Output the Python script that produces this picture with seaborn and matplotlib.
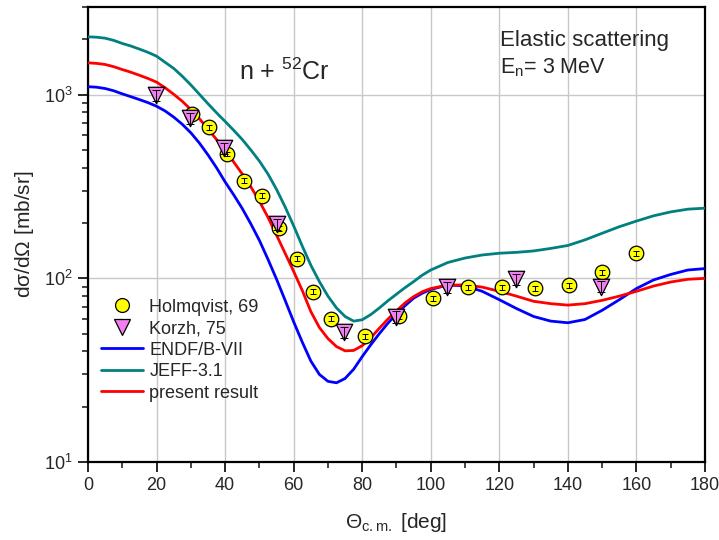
import numpy as np
import pandas as pd
import matplotlib
matplotlib.use("Agg")
import matplotlib.pyplot as plt
import seaborn as sns
from matplotlib.lines import Line2D
from matplotlib.ticker import LogLocator, MultipleLocator, NullFormatter

# ---------------- data ----------------
angles = [0, 2.5, 5, 7.5, 10, 12.5, 15, 17.5, 20, 22.5, 25, 27.5, 30, 32.5, 35, 37.5,
          40, 42.5, 45, 47.5, 50, 52.5, 55, 57.5, 60, 62.5, 65, 67.5, 70, 72.5, 75,
          77.5, 80, 82.5, 85, 87.5, 90, 92.5, 95, 97.5, 100,
          105, 110, 115, 120, 125, 130, 135, 140, 145, 150, 155, 160, 165, 170, 175, 180]
endf = [1105, 1098, 1080, 1050, 1010, 975, 940, 905, 865, 815, 755, 690, 620, 545, 470, 400,
        335, 285, 240, 198, 161, 127, 99, 76, 58, 45, 35.5, 30, 27.5, 27, 28.5,
        32, 37.5, 43.5, 50, 57, 64, 71, 78, 83, 87,
        92, 91, 85, 76.5, 68.5, 62, 58.5, 57.3, 59.7, 67, 76.5, 88, 98, 105, 111, 113]
jeff = [2065, 2055, 2030, 1975, 1900, 1840, 1770, 1700, 1620, 1500, 1390, 1260, 1130, 1005, 893, 797,
        715, 640, 570, 500, 435, 370, 305, 245, 193, 150, 118, 96, 80, 69, 62,
        58.5, 59.5, 63.5, 69, 75.5, 82, 89, 96, 104, 111,
        122, 129, 134, 137, 138.5, 141, 145.5, 151, 162, 176, 191, 205, 219, 230, 238, 241]
present = [1490, 1480, 1460, 1420, 1370, 1325, 1275, 1225, 1170, 1090, 1005, 920, 830, 740, 650, 570,
           500, 430, 370, 315, 263, 215, 172, 137, 109, 86, 66, 54, 47, 42.5, 40.3,
           40.5, 43, 47.5, 53.5, 60, 66.5, 73.5, 79.5, 84.5, 88,
           92, 92, 89.6, 85, 80, 75, 72.8, 71.5, 72.8, 75.9, 80, 85, 90.8, 95.5, 98.8, 100]

holm_x = [30.3, 35.4, 40.5, 45.5, 50.7, 55.8, 60.9, 65.7, 70.9, 80.8, 90.8, 100.7,
          110.8, 120.7, 130.5, 140.4, 150.1, 159.9]
holm_y = [780, 665, 476, 340, 282, 187, 128, 84.5, 60.3, 48.4, 62.2, 77.8, 89.6,
          89.6, 88.1, 91.6, 108, 137]
holm_err = [0.03] * len(holm_x)

korzh_x = [19.8, 29.8, 39.8, 55.0, 74.8, 89.9, 104.6, 124.8, 149.7]
korzh_y = [990, 745, 512, 197, 50.9, 61.8, 89.6, 98.8, 90.1]
korzh_err = [0.07] * len(korzh_x)

# ---------------- style ----------------
sns.set_style("white")
plt.rcParams["font.family"] = ["Liberation Sans", "DejaVu Sans"]
plt.rcParams["mathtext.fontset"] = "custom"
plt.rcParams["mathtext.rm"] = "Liberation Sans"
plt.rcParams["mathtext.it"] = "Liberation Sans:italic"
plt.rcParams["mathtext.default"] = "regular"

fig = plt.figure(figsize=(7.19, 5.40), dpi=100)
ax = fig.add_axes([0.1224, 0.1444, 0.8581, 0.8426])

curves = pd.DataFrame({
    "angle": angles * 3,
    "xs": endf + jeff + present,
    "lib": ["ENDF/B-VII"] * len(angles) + ["JEFF-3.1"] * len(angles)
           + ["present result"] * len(angles),
})
palette = {"ENDF/B-VII": "#0000FF", "JEFF-3.1": "#008080", "present result": "#FF0000"}
sns.lineplot(data=curves, x="angle", y="xs", hue="lib", palette=palette,
             estimator=None, sort=False, lw=2.0, ax=ax, legend=False, zorder=3)

# experimental data
hx = np.array(holm_x); hy = np.array(holm_y)
kx = np.array(korzh_x); ky = np.array(korzh_y)
sns.scatterplot(x=hx, y=hy, marker="o", s=110, color="#FFFF00", edgecolor="black",
                linewidth=0.9, ax=ax, zorder=4)
ax.errorbar(hx, hy, yerr=hy * np.array(holm_err), fmt="none", ecolor="black",
            elinewidth=0.7, capsize=2.5, capthick=0.7, zorder=5)
sns.scatterplot(x=kx, y=ky, marker="v", s=140, color="#F080F0", edgecolor="black",
                linewidth=0.9, ax=ax, zorder=6)
ax.errorbar(kx, ky, yerr=ky * np.array(korzh_err), fmt="none", ecolor="black",
            elinewidth=0.7, capsize=3, capthick=0.7, zorder=7)

ax.set_yscale("log")
ax.set_xlim(0, 180)
ax.set_ylim(10, 3000)

ax.xaxis.set_major_locator(MultipleLocator(20))
ax.xaxis.set_minor_locator(MultipleLocator(10))
ax.yaxis.set_major_locator(LogLocator(base=10, numticks=10))
ax.yaxis.set_minor_locator(LogLocator(base=10, subs=np.arange(2, 10), numticks=20))
ax.yaxis.set_minor_formatter(NullFormatter())

ax.grid(True, which="major", color="#c8c8c8", lw=1.0, zorder=0)
ax.set_axisbelow(True)
for s in ax.spines.values():
    s.set_color("black")
    s.set_linewidth(1.6)
ax.tick_params(axis="both", which="major", direction="out", length=7, width=1.4,
               labelsize=13, bottom=True, left=True, top=False, right=False, pad=4)
ax.tick_params(axis="both", which="minor", direction="out", length=4, width=1.2,
               bottom=True, left=True, top=False, right=False)

ax.set_xlabel(r"$\Theta_{c.m.}$ [deg]", fontsize=15, labelpad=12)
ax.set_ylabel(r"d$\sigma$/d$\Omega$ [mb/sr]", fontsize=15, labelpad=6)

ax.text(0.245, 0.857, r"n + $^{52}$Cr", transform=ax.transAxes, fontsize=18,
        ha="left", va="center")
ax.text(0.668, 0.927, "Elastic scattering", transform=ax.transAxes, fontsize=16,
        ha="left", va="center")
ax.text(0.668, 0.866, r"E$_n$= 3 MeV", transform=ax.transAxes, fontsize=15.5,
        ha="left", va="center")

handles = [
    Line2D([], [], ls="none", marker="o", ms=10, mfc="#FFFF00", mec="black", mew=0.9),
    Line2D([], [], ls="none", marker="v", ms=11, mfc="#F080F0", mec="black", mew=0.9),
    Line2D([], [], color="#0000FF", lw=2),
    Line2D([], [], color="#008080", lw=2),
    Line2D([], [], color="#FF0000", lw=2),
]
labels = ["Holmqvist, 69", "Korzh, 75", "ENDF/B-VII", "JEFF-3.1", "present result"]
ax.legend(handles, labels, loc="lower left", bbox_to_anchor=(0.0, 0.105),
          frameon=False, fontsize=13, handlelength=2.35, handletextpad=0.35,
          labelspacing=0.25, borderaxespad=0.3)

fig.savefig("out.png", dpi=100)
